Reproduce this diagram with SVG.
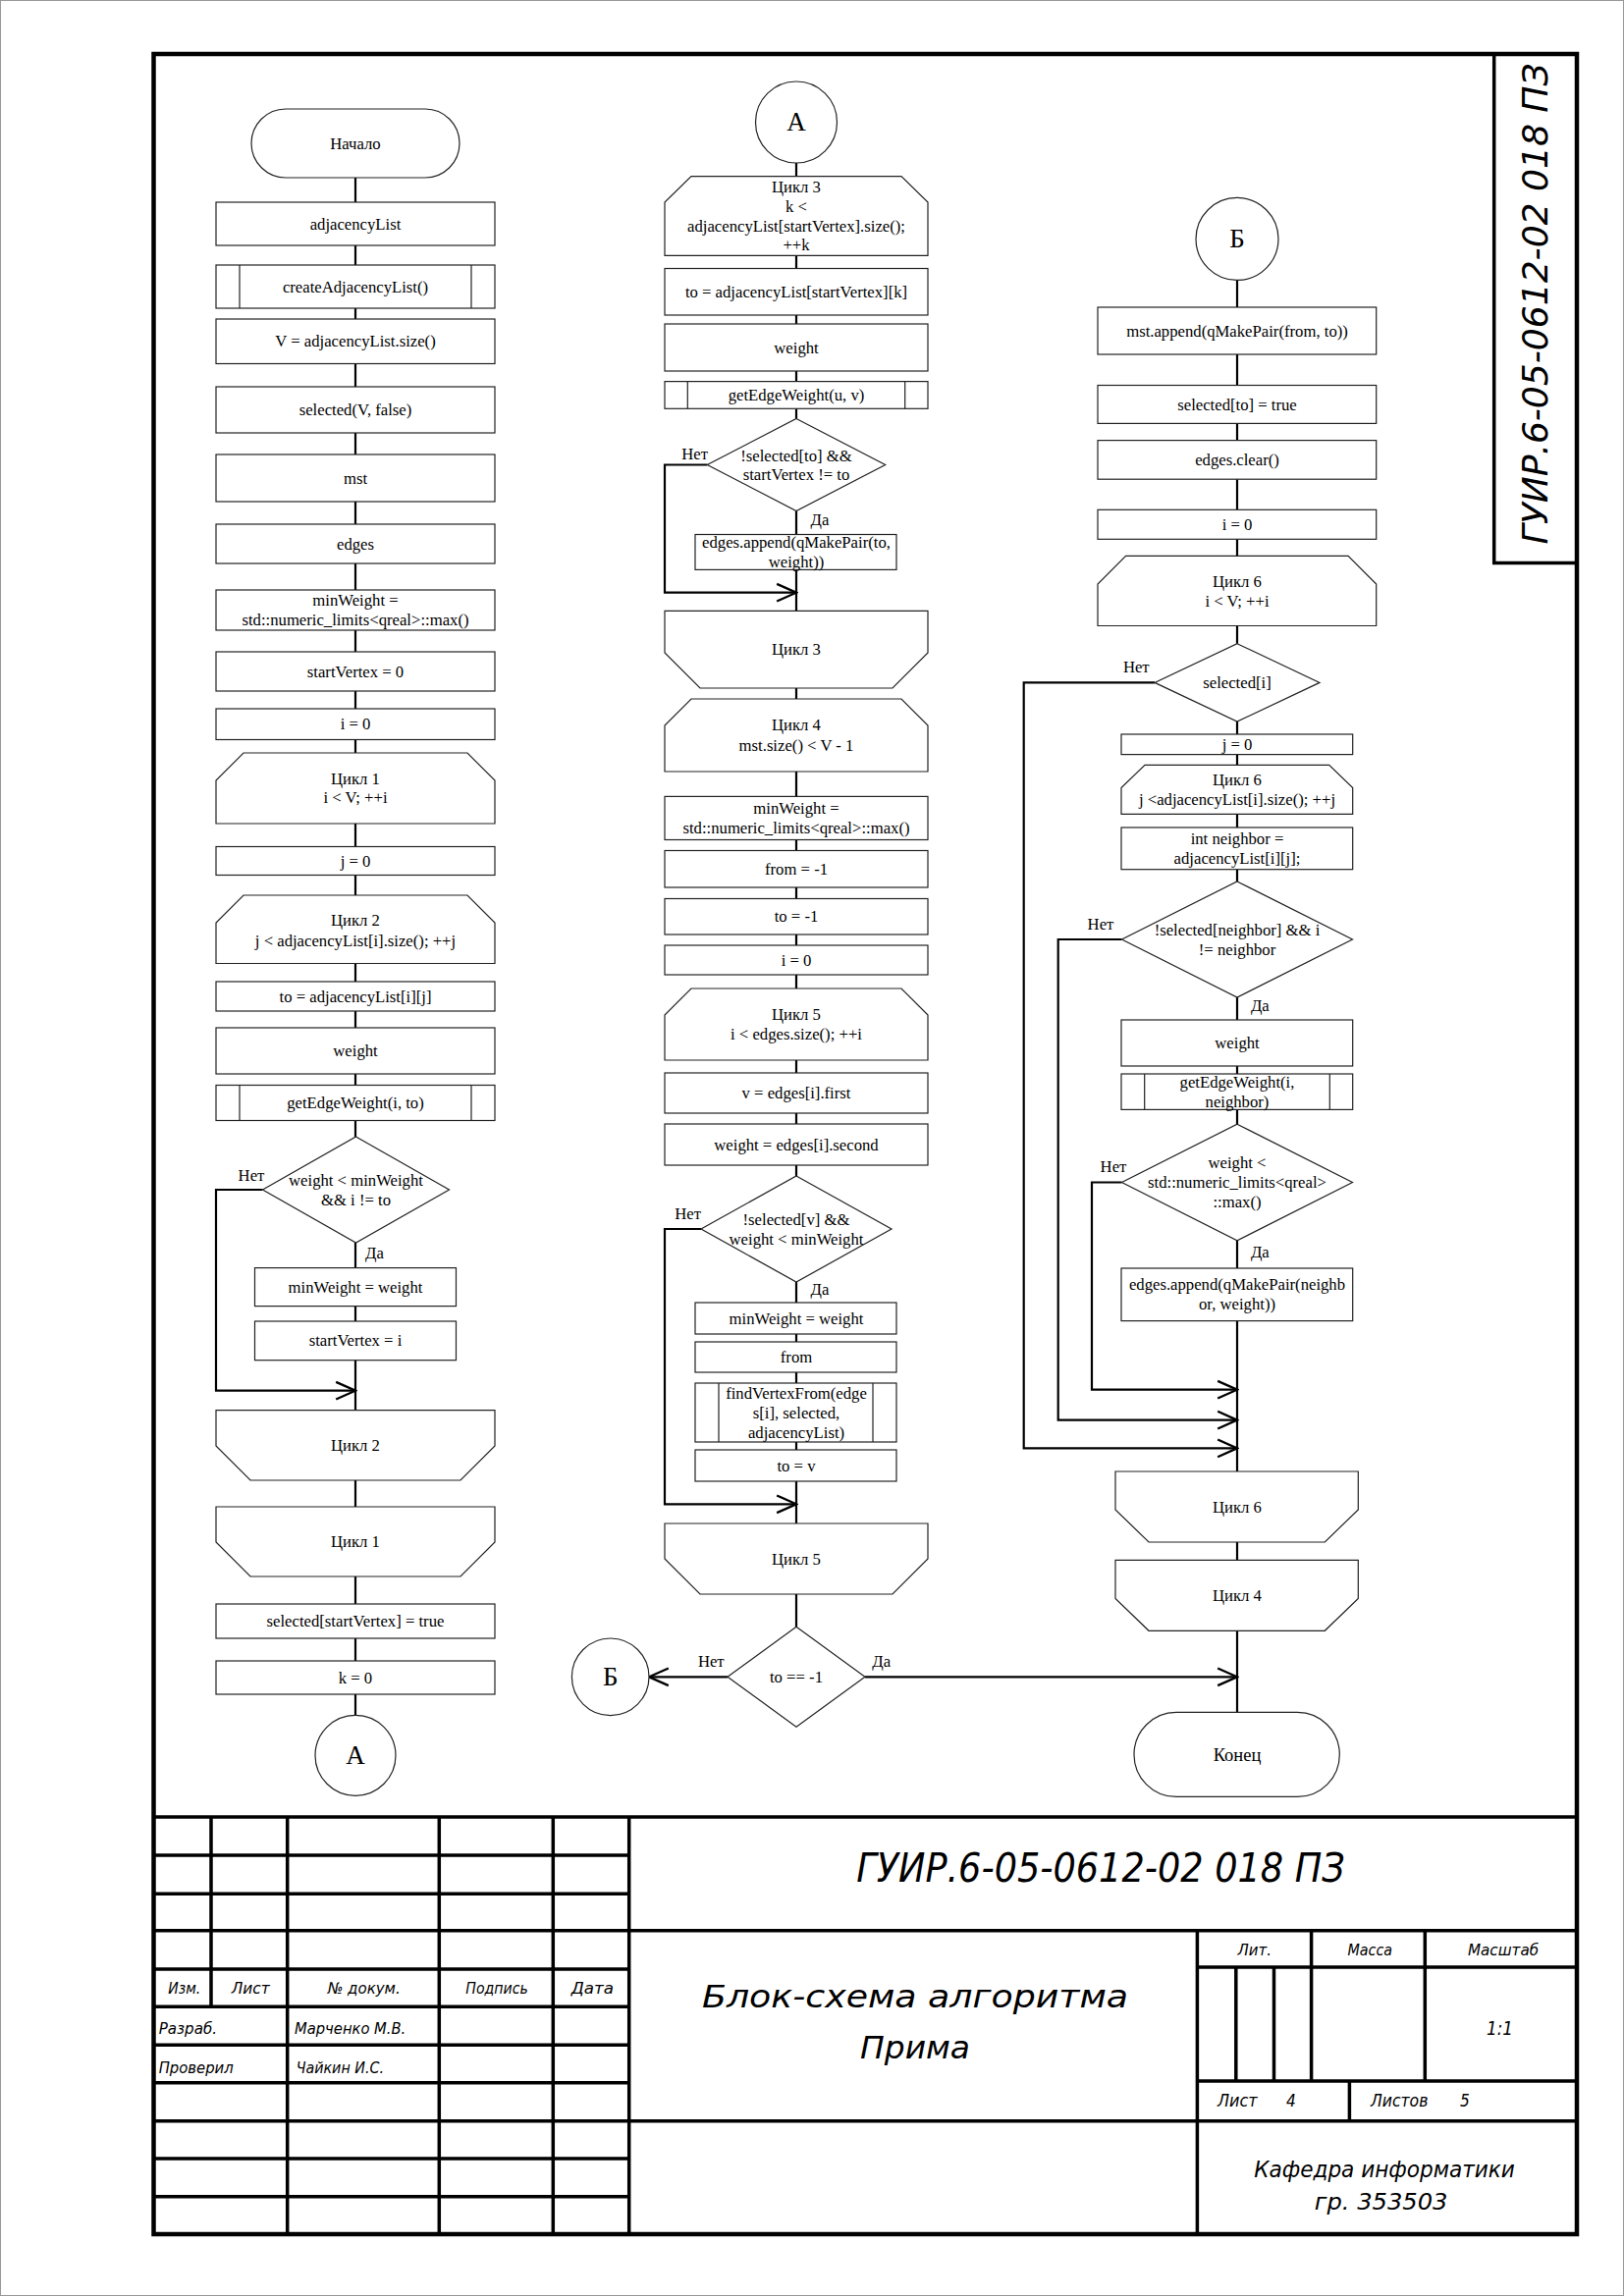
<svg xmlns="http://www.w3.org/2000/svg" width="1654" height="2339" viewBox="0 0 1654 2339">
<style>
.s{fill:#fff;stroke:#222;stroke-width:1.2}
.c{fill:none;stroke:#000;stroke-width:2.2}
.t{font-family:"Liberation Serif","Times New Roman",serif;font-size:16.7px;text-anchor:middle;fill:#000}
.big{font-size:27px}
.end{font-size:18.5px}
.g{font-family:"Liberation Sans Narrow","DejaVu Sans Condensed","Liberation Sans",sans-serif;font-style:italic;fill:#000}
.gm{text-anchor:middle}
.tb{fill:none;stroke:#000;stroke-width:3.5}
.fr{fill:none;stroke:#000;stroke-width:4.5}
</style>
<defs>
<marker id="ar" markerUnits="userSpaceOnUse" markerWidth="24" markerHeight="24" viewBox="-21 -11 23 22" refX="0" refY="0" orient="auto">
<path d="M-19,-8.5 L0,0 L-19,8.5" fill="none" stroke="#000" stroke-width="2.2"/>
</marker>
</defs>
<rect x="0.5" y="0.5" width="1653" height="2338" fill="#fff" stroke="#999" stroke-width="1"/>

<g id="connectors">
<path class="c" d="M362,181V206M362,250V270M362,314V325M362,370.5V394M362,441V463M362,511V534M362,574V601M362,642V664M362,704V722M362,753.5V767M362,839V862.5M362,891.5V912M362,981.5V1000M362,1030V1047M362,1094V1105.5M362,1141.5V1158M362,1266V1291.6M362,1330.6V1346M362,1385.7V1436.7M362,1508V1535M362,1606V1634M362,1669V1692M362,1726V1747"/>
<path class="c" d="M267.5,1212H220V1416.7H362" marker-end="url(#ar)"/>
<path class="c" d="M811,166V179.6M811,260.4V273.5M811,321V330M811,378V388.6M811,416.3V426.5M811,520.5V544.5M811,580.4V622.4M811,701V712M811,786V811.4M811,855.5V866.5M811,904V915.5M811,952V963M811,993V1007M811,1080V1093M811,1134V1145M811,1187V1198M811,1306V1327M811,1359V1367M811,1398V1409M811,1469V1477M811,1509V1552M811,1624V1657.3"/>
<path class="c" d="M720.3,473.5H677V603.7H811" marker-end="url(#ar)"/>
<path class="c" d="M714,1252H677V1532.3H811" marker-end="url(#ar)"/>
<path class="c" d="M741,1708.3H661" marker-end="url(#ar)"/>
<path class="c" d="M881,1708.3H1260" marker-end="url(#ar)"/>
<path class="c" d="M1260,285.4V313M1260,361V392.5M1260,431.4V448.6M1260,488.2V519.3M1260,549.3V566.4M1260,637.5V655.7M1260,735.1V748M1260,768.6V779.3M1260,829.3V843M1260,885.7V898M1260,1016V1039M1260,1086V1094M1260,1130.4V1145.2M1260,1263.8V1292M1260,1345.6V1499M1260,1571V1589.4M1260,1661.3V1744.4"/>
<path class="c" d="M1142.5,1204.5H1112V1415.7H1260" marker-end="url(#ar)"/>
<path class="c" d="M1142.5,957H1077.7V1446.6H1260" marker-end="url(#ar)"/>
<path class="c" d="M1176,695.4H1042.7V1475.4H1260" marker-end="url(#ar)"/>
<text class="t" x="256" y="1202.6">Нет</text>
<text class="t" x="381.5" y="1281.9">Да</text>
<text class="t" x="707.7" y="467.6">Нет</text>
<text class="t" x="835" y="535">Да</text>
<text class="t" x="700.7" y="1242.3">Нет</text>
<text class="t" x="835" y="1319.1">Да</text>
<text class="t" x="724.3" y="1698.3">Нет</text>
<text class="t" x="897.7" y="1698.3">Да</text>
<text class="t" x="1157.3" y="684.6">Нет</text>
<text class="t" x="1121" y="946.6">Нет</text>
<text class="t" x="1283.3" y="1029.6">Да</text>
<text class="t" x="1134" y="1193.8">Нет</text>
<text class="t" x="1283.3" y="1281.3">Да</text>
</g>

<!-- Column 1 -->
<g id="n1_start"><rect class="s" x="256" y="111" width="212" height="70" rx="35"/><text class="t" x="362" y="151.6">Начало</text></g>
<g id="n1_adj"><rect class="s" x="220" y="206" width="284" height="44"/><text class="t" x="362" y="233.6">adjacencyList</text></g>
<g id="n1_create"><rect class="s" x="220" y="270" width="284" height="44"/><path class="s" d="M244,270V314M480,270V314"/><text class="t" x="362" y="297.6">createAdjacencyList()</text></g>
<g id="n1_V"><rect class="s" x="220" y="325" width="284" height="45.5"/><text class="t" x="362" y="353.3">V = adjacencyList.size()</text></g>
<g id="n1_sel"><rect class="s" x="220" y="394" width="284" height="47"/><text class="t" x="362" y="423.1">selected(V, false)</text></g>
<g id="n1_mst"><rect class="s" x="220" y="463" width="284" height="48"/><text class="t" x="362" y="492.6">mst</text></g>
<g id="n1_edges"><rect class="s" x="220" y="534" width="284" height="40"/><text class="t" x="362" y="559.6">edges</text></g>
<g id="n1_minw"><rect class="s" x="220" y="601" width="284" height="41"/><text class="t" x="362" y="617.1">minWeight =</text><text class="t" x="362" y="637.1">std::numeric_limits&lt;qreal&gt;::max()</text></g>
<g id="n1_sv0"><rect class="s" x="220" y="664" width="284" height="40"/><text class="t" x="362" y="689.6">startVertex = 0</text></g>
<g id="n1_i0"><rect class="s" x="220" y="722" width="284" height="31.5"/><text class="t" x="362" y="743.3">i = 0</text></g>
<g id="n1_loop1"><polygon class="s" points="248,767 476,767 504,795 504,839 220,839 220,795"/><text class="t" x="362" y="798.9">Цикл 1</text><text class="t" x="362" y="818.4">i &lt; V; ++i</text></g>
<g id="n1_j0"><rect class="s" x="220" y="862.5" width="284" height="29"/><text class="t" x="362" y="882.6">j = 0</text></g>
<g id="n1_loop2"><polygon class="s" points="248,912 476,912 504,940 504,981.5 220,981.5 220,940"/><text class="t" x="362" y="942.7">Цикл 2</text><text class="t" x="362" y="963.5">j &lt; adjacencyList[i].size(); ++j</text></g>
<g id="n1_to"><rect class="s" x="220" y="1000" width="284" height="30"/><text class="t" x="362" y="1020.6">to = adjacencyList[i][j]</text></g>
<g id="n1_weight"><rect class="s" x="220" y="1047" width="284" height="47"/><text class="t" x="362" y="1076.3">weight</text></g>
<g id="n1_gew"><rect class="s" x="220" y="1105.5" width="284" height="36"/><path class="s" d="M244,1105.5V1141.5M480,1105.5V1141.5"/><text class="t" x="362" y="1129.1">getEdgeWeight(i, to)</text></g>
<g id="n1_cond"><polygon class="s" points="362.5,1158 457.5,1212 362.5,1266 267.5,1212"/><text class="t" x="362.5" y="1207.6">weight &lt; minWeight</text><text class="t" x="362.5" y="1227.6">&amp;&amp; i != to</text></g>
<g id="n1_mw"><rect class="s" x="259.5" y="1291.6" width="205" height="39"/><text class="t" x="362" y="1316.6">minWeight = weight</text></g>
<g id="n1_svi"><rect class="s" x="259.5" y="1346" width="205" height="39.7"/><text class="t" x="362" y="1371.4">startVertex = i</text></g>
<g id="n1_loop2end"><polygon class="s" points="220,1436.7 504,1436.7 504,1473 469,1508 255,1508 220,1473"/><text class="t" x="362" y="1477.9">Цикл 2</text></g>
<g id="n1_loop1end"><polygon class="s" points="220,1535 504,1535 504,1571 469,1606 255,1606 220,1571"/><text class="t" x="362" y="1576.3">Цикл 1</text></g>
<g id="n1_selsv"><rect class="s" x="220" y="1634" width="284" height="35"/><text class="t" x="362" y="1657.1">selected[startVertex] = true</text></g>
<g id="n1_k0"><rect class="s" x="220" y="1692" width="284" height="34"/><text class="t" x="362" y="1714.6">k = 0</text></g>
<g id="n1_A"><circle class="s" cx="362" cy="1788.3" r="41"/><text class="t big" x="362" y="1797.2">А</text></g>

<!-- Column 2 -->
<g id="n2_A"><circle class="s" cx="811" cy="124.5" r="41.5"/><text class="t big" x="811" y="133.4">А</text></g>
<g id="n2_loop3"><polygon class="s" points="704,179.6 918,179.6 945,206 945,260.4 677,260.4 677,206"/><text class="t" x="811" y="196">Цикл 3</text><text class="t" x="811" y="215.8">k &lt;</text><text class="t" x="811" y="235.6">adjacencyList[startVertex].size();</text><text class="t" x="811" y="255.4">++k</text></g>
<g id="n2_to"><rect class="s" x="677" y="273.5" width="268" height="47.5"/><text class="t" x="811" y="302.9">to = adjacencyList[startVertex][k]</text></g>
<g id="n2_weight"><rect class="s" x="677" y="330" width="268" height="48"/><text class="t" x="811" y="359.8">weight</text></g>
<g id="n2_gew"><rect class="s" x="677" y="388.6" width="268" height="27.7"/><path class="s" d="M700.3,388.6V416.3M921.7,388.6V416.3"/><text class="t" x="811" y="408.1">getEdgeWeight(u, v)</text></g>
<g id="n2_cond1"><polygon class="s" points="811,426.5 901.7,473.5 811,520.5 720.3,473.5"/><text class="t" x="811" y="469.6">!selected[to] &amp;&amp;</text><text class="t" x="811" y="489.3">startVertex != to</text></g>
<g id="n2_append"><rect class="s" x="708" y="544.5" width="205" height="35.9"/><text class="t" x="811" y="558.1">edges.append(qMakePair(to,</text><text class="t" x="811" y="578.1">weight))</text></g>
<g id="n2_loop3end"><polygon class="s" points="677,622.4 945,622.4 945,665 909,701 713,701 677,665"/><text class="t" x="811" y="667.3">Цикл 3</text></g>
<g id="n2_loop4"><polygon class="s" points="704,712 918,712 945,739 945,786 677,786 677,739"/><text class="t" x="811" y="744.4">Цикл 4</text><text class="t" x="811" y="764.8">mst.size() &lt; V - 1</text></g>
<g id="n2_minw"><rect class="s" x="677" y="811.4" width="268" height="44.1"/><text class="t" x="811" y="829.3">minWeight =</text><text class="t" x="811" y="849.3">std::numeric_limits&lt;qreal&gt;::max()</text></g>
<g id="n2_from"><rect class="s" x="677" y="866.5" width="268" height="37.5"/><text class="t" x="811" y="890.9">from = -1</text></g>
<g id="n2_tom1"><rect class="s" x="677" y="915.5" width="268" height="36.5"/><text class="t" x="811" y="939.4">to = -1</text></g>
<g id="n2_i0"><rect class="s" x="677" y="963" width="268" height="30"/><text class="t" x="811" y="983.6">i = 0</text></g>
<g id="n2_loop5"><polygon class="s" points="704,1007 918,1007 945,1034 945,1080 677,1080 677,1034"/><text class="t" x="811" y="1039.1">Цикл 5</text><text class="t" x="811" y="1059.1">i &lt; edges.size(); ++i</text></g>
<g id="n2_v"><rect class="s" x="677" y="1093" width="268" height="41"/><text class="t" x="811" y="1119.1">v = edges[i].first</text></g>
<g id="n2_w"><rect class="s" x="677" y="1145" width="268" height="42"/><text class="t" x="811" y="1171.6">weight = edges[i].second</text></g>
<g id="n2_cond2"><polygon class="s" points="811,1198 908,1252 811,1306 714,1252"/><text class="t" x="811" y="1247.6">!selected[v] &amp;&amp;</text><text class="t" x="811" y="1267.6">weight &lt; minWeight</text></g>
<g id="n2_mw"><rect class="s" x="708" y="1327" width="205" height="32"/><text class="t" x="811" y="1348.6">minWeight = weight</text></g>
<g id="n2_fr"><rect class="s" x="708" y="1367" width="205" height="31"/><text class="t" x="811" y="1388.3">from</text></g>
<g id="n2_find"><rect class="s" x="708" y="1409" width="205" height="60"/><path class="s" d="M732,1409V1469M889,1409V1469"/><text class="t" x="811" y="1424.9">findVertexFrom(edge</text><text class="t" x="811" y="1444.9">s[i], selected,</text><text class="t" x="811" y="1464.9">adjacencyList)</text></g>
<g id="n2_tov"><rect class="s" x="708" y="1477" width="205" height="32"/><text class="t" x="811" y="1498.6">to = v</text></g>
<g id="n2_loop5end"><polygon class="s" points="677,1552 945,1552 945,1588 909,1624 713,1624 677,1588"/><text class="t" x="811" y="1593.6">Цикл 5</text></g>
<g id="n2_cond3"><polygon class="s" points="811,1657.3 881,1708.3 811,1759.3 741,1708.3"/><text class="t" x="811" y="1713.9">to == -1</text></g>
<g id="n2_B"><circle class="s" cx="621.7" cy="1708.3" r="39.3"/><text class="t big" x="621.7" y="1717.2">Б</text></g>

<!-- Column 3 -->
<g id="n3_B"><circle class="s" cx="1260" cy="243.4" r="42"/><text class="t big" x="1260" y="252.3">Б</text></g>
<g id="n3_mst"><rect class="s" x="1118" y="313" width="283.7" height="48"/><text class="t" x="1260" y="342.6">mst.append(qMakePair(from, to))</text></g>
<g id="n3_selto"><rect class="s" x="1118" y="392.5" width="283.7" height="38.9"/><text class="t" x="1260" y="417.6">selected[to] = true</text></g>
<g id="n3_clear"><rect class="s" x="1118" y="448.6" width="283.7" height="39.6"/><text class="t" x="1260" y="474">edges.clear()</text></g>
<g id="n3_i0"><rect class="s" x="1118" y="519.3" width="283.7" height="30"/><text class="t" x="1260" y="539.9">i = 0</text></g>
<g id="n3_loop6"><polygon class="s" points="1146.6,566.4 1373.1,566.4 1401.7,595 1401.7,637.5 1118,637.5 1118,595"/><text class="t" x="1260" y="598.1">Цикл 6</text><text class="t" x="1260" y="617.7">i &lt; V; ++i</text></g>
<g id="n3_seli"><polygon class="s" points="1260,655.7 1344,695.4 1260,735.1 1176,695.4"/><text class="t" x="1260" y="701">selected[i]</text></g>
<g id="n3_j0"><rect class="s" x="1142" y="748" width="235.7" height="20.6"/><text class="t" x="1260" y="763.9">j = 0</text></g>
<g id="n3_loop6j"><polygon class="s" points="1166,779.3 1353.7,779.3 1377.7,802.5 1377.7,829.3 1142,829.3 1142,802.5"/><text class="t" x="1260" y="799.9">Цикл 6</text><text class="t" x="1260" y="819.9">j &lt;adjacencyList[i].size(); ++j</text></g>
<g id="n3_nb"><rect class="s" x="1142" y="843" width="235.7" height="42.7"/><text class="t" x="1260" y="859.9">int neighbor =</text><text class="t" x="1260" y="879.9">adjacencyList[i][j];</text></g>
<g id="n3_cond1"><polygon class="s" points="1260,898 1377.5,957 1260,1016 1142.5,957"/><text class="t" x="1260" y="952.6">!selected[neighbor] &amp;&amp; i</text><text class="t" x="1260" y="972.6">!= neighbor</text></g>
<g id="n3_weight"><rect class="s" x="1142" y="1039" width="235.7" height="47"/><text class="t" x="1260" y="1068.3">weight</text></g>
<g id="n3_gew"><rect class="s" x="1142" y="1094" width="235.7" height="36.4"/><path class="s" d="M1165.7,1094V1130.4M1354.3,1094V1130.4"/><text class="t" x="1260" y="1107.9">getEdgeWeight(i,</text><text class="t" x="1260" y="1127.9">neighbor)</text></g>
<g id="n3_cond2"><polygon class="s" points="1260,1145.2 1377.5,1204.5 1260,1263.8 1142.5,1204.5"/><text class="t" x="1260" y="1190.1">weight &lt;</text><text class="t" x="1260" y="1210.1">std::numeric_limits&lt;qreal&gt;</text><text class="t" x="1260" y="1230.1">::max()</text></g>
<g id="n3_append"><rect class="s" x="1142" y="1292" width="235.7" height="53.6"/><text class="t" x="1260" y="1314.4">edges.append(qMakePair(neighb</text><text class="t" x="1260" y="1334.4">or, weight))</text></g>
<g id="n3_loop6end"><polygon class="s" points="1136,1499 1383.3,1499 1383.3,1538 1349.3,1571 1170,1571 1136,1538"/><text class="t" x="1260" y="1540.6">Цикл 6</text></g>
<g id="n3_loop4end"><polygon class="s" points="1136,1589.4 1383.3,1589.4 1383.3,1628.4 1349.3,1661.3 1170,1661.3 1136,1628.4"/><text class="t" x="1260" y="1631">Цикл 4</text></g>
<g id="n3_end"><rect class="s" x="1155" y="1744.4" width="209.3" height="86" rx="43"/><text class="t end" x="1260" y="1793.5">Конец</text></g>

<!-- Frame and title block -->
<g id="frame">
<rect class="fr" x="156.5" y="55" width="1449.5" height="2221"/>
<path class="tb" d="M1521.7,55V573.4H1606"/>
<text class="g gm" x="1563.3" y="322" font-size="36" textLength="490" lengthAdjust="spacingAndGlyphs" transform="rotate(-90 1563.3 309.4)">ГУИР.6-05-0612-02 018 ПЗ</text>
</g>
<g id="titleblock">
<path class="tb" d="M156.5,1851H1606M156.5,1890H640.7M156.5,1929.3H640.7M156.5,1966.7H1606M156.5,2006H640.7M156.5,2044.3H640.7M156.5,2083.3H640.7M156.5,2121.7H640.7M156.5,2160.7H1606M156.5,2199H640.7M156.5,2237.7H640.7"/>
<path class="tb" d="M215,1851V2044.3M292.7,1851V2276M447.3,1851V2276M563.3,1851V2276M640.7,1851V2276M1219.4,1966.7V2276"/>
<path class="tb" d="M1219.4,2004H1606M1219.4,2120H1606M1335.6,1966.7V2120M1451.3,1966.7V2120M1258.8,2004V2120M1297.5,2004V2120M1374.4,2120V2160.7"/>
<text class="g gm" x="187.7" y="2030.7" font-size="16" textLength="33" lengthAdjust="spacingAndGlyphs">Изм.</text>
<text class="g gm" x="255.3" y="2030.7" font-size="16" textLength="39" lengthAdjust="spacingAndGlyphs">Лист</text>
<text class="g gm" x="370.7" y="2030.7" font-size="16" textLength="74" lengthAdjust="spacingAndGlyphs">№ докум.</text>
<text class="g gm" x="506" y="2030.7" font-size="16" textLength="63.4" lengthAdjust="spacingAndGlyphs">Подпись</text>
<text class="g gm" x="603.3" y="2030.7" font-size="16" textLength="43.3" lengthAdjust="spacingAndGlyphs">Дата</text>
<text class="g" x="161.7" y="2072.3" font-size="16" textLength="59.3" lengthAdjust="spacingAndGlyphs">Разраб.</text>
<text class="g" x="300" y="2072.3" font-size="16" textLength="113.3" lengthAdjust="spacingAndGlyphs">Марченко М.В.</text>
<text class="g" x="161.7" y="2111.7" font-size="16" textLength="76" lengthAdjust="spacingAndGlyphs">Проверил</text>
<text class="g" x="301.7" y="2111.7" font-size="16" textLength="89.3" lengthAdjust="spacingAndGlyphs">Чайкин И.С.</text>
<text class="g gm" x="1121" y="1917" font-size="41" textLength="497.5" lengthAdjust="spacingAndGlyphs">ГУИР.6-05-0612-02 018 ПЗ</text>
<text class="g gm" x="932" y="2045" font-size="32" textLength="434" lengthAdjust="spacingAndGlyphs">Блок-схема алгоритма</text>
<text class="g gm" x="932" y="2096.5" font-size="32" textLength="112" lengthAdjust="spacingAndGlyphs">Прима</text>
<text class="g gm" x="1277.8" y="1991.7" font-size="16" textLength="34.4" lengthAdjust="spacingAndGlyphs">Лит.</text>
<text class="g gm" x="1395.3" y="1991.7" font-size="16" textLength="45.5" lengthAdjust="spacingAndGlyphs">Масса</text>
<text class="g gm" x="1531" y="1991.7" font-size="16" textLength="72" lengthAdjust="spacingAndGlyphs">Масштаб</text>
<text class="g gm" x="1527.5" y="2073.3" font-size="20" textLength="27" lengthAdjust="spacingAndGlyphs">1:1</text>
<text class="g" x="1240" y="2146" font-size="17" textLength="40.6" lengthAdjust="spacingAndGlyphs">Лист</text>
<text class="g" x="1310" y="2146" font-size="17">4</text>
<text class="g" x="1396" y="2146" font-size="17" textLength="58.4" lengthAdjust="spacingAndGlyphs">Листов</text>
<text class="g" x="1487" y="2146" font-size="17">5</text>
<text class="g gm" x="1410" y="2218" font-size="23" textLength="265.6" lengthAdjust="spacingAndGlyphs">Кафедра информатики</text>
<text class="g gm" x="1406.6" y="2250.5" font-size="23" textLength="135.6" lengthAdjust="spacingAndGlyphs">гр. 353503</text>
</g>
</svg>
